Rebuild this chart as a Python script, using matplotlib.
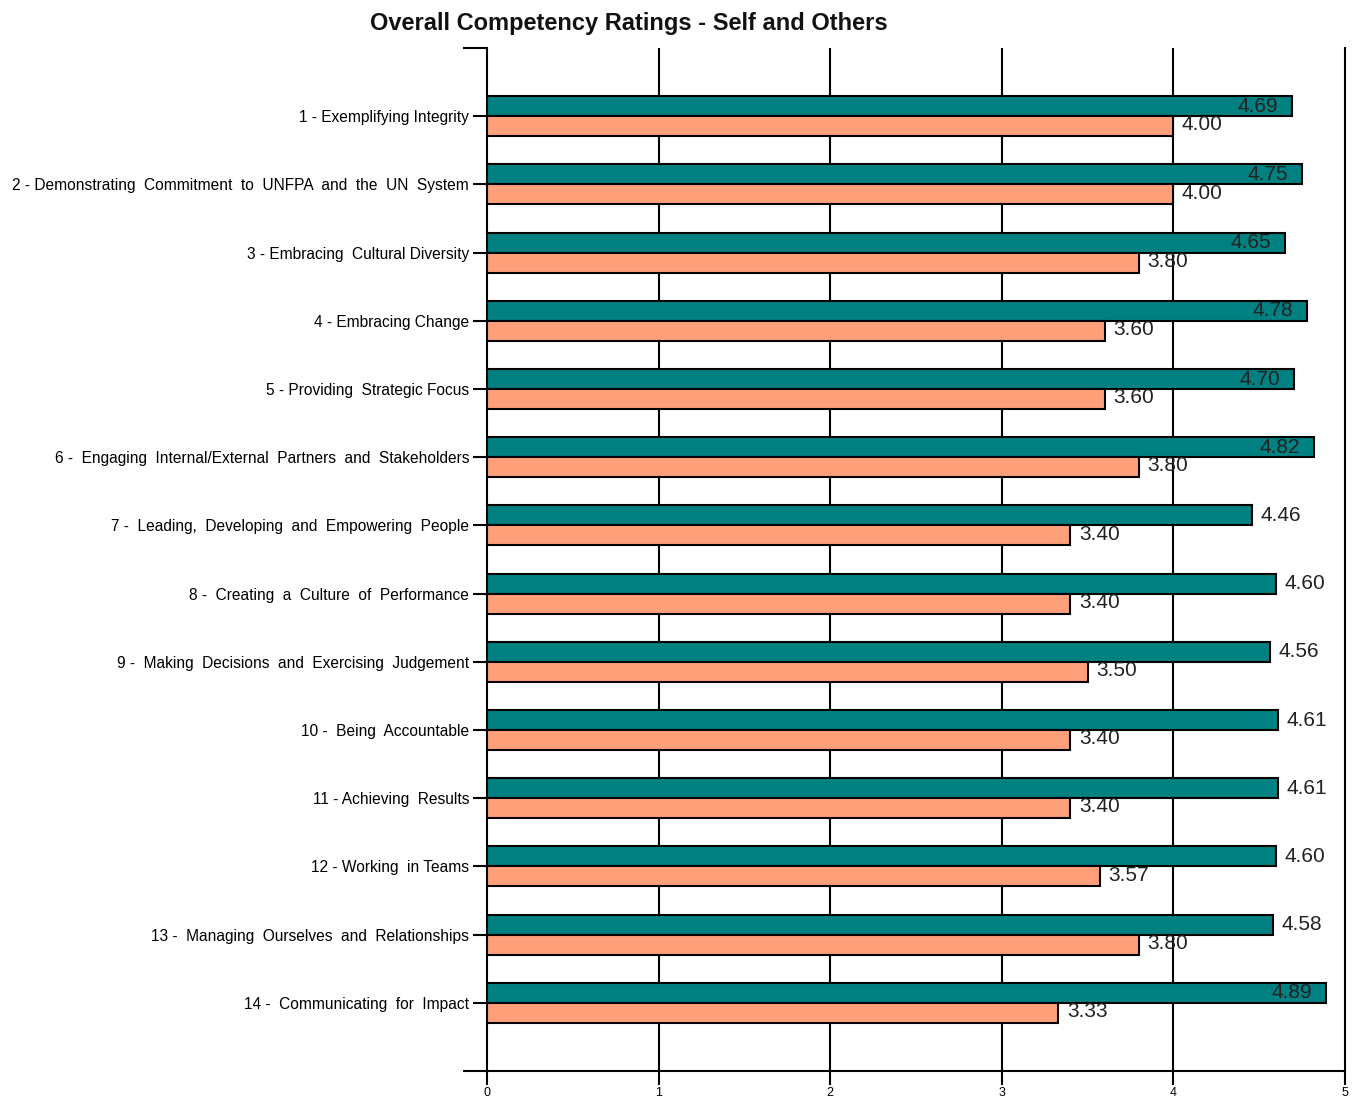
import matplotlib
matplotlib.use('Agg')
import matplotlib.pyplot as plt
import numpy as np

plt.rcParams['font.family'] = ['Liberation Sans', 'DejaVu Sans']

categories = ['1 - Exemplifying Integrity',
              '2 - Demonstrating  Commitment  to  UNFPA  and  the  UN  System',
              '3 - Embracing  Cultural Diversity',
              '4 - Embracing Change',
              '5 - Providing  Strategic Focus',
              '6 -  Engaging  Internal/External  Partners  and  Stakeholders',
              '7 -  Leading,  Developing  and  Empowering  People',
              '8 -  Creating  a  Culture  of  Performance',
              '9 -  Making  Decisions  and  Exercising  Judgement',
              '10 -  Being  Accountable',
              '11 - Achieving  Results',
              '12 - Working  in Teams',
              '13 -  Managing  Ourselves  and  Relationships',
              '14 -  Communicating  for  Impact']
others = [4.69, 4.75, 4.65, 4.78, 4.70, 4.82, 4.46, 4.60, 4.56, 4.61, 4.61, 4.60, 4.58, 4.89]
self_r = [4.00, 4.00, 3.80, 3.60, 3.60, 3.80, 3.40, 3.40, 3.50, 3.40, 3.40, 3.57, 3.80, 3.33]

teal = '#008080'
salmon = '#FFA07A'
txt = '#222222'

fig = plt.figure(figsize=(13.59, 11.02), dpi=100)
ax = fig.add_axes([0.3584, 0.0281, 0.6313, 0.9283])

y = np.arange(len(categories))
h = 0.294
ax.barh(y - h / 2, others, height=h, color=teal, edgecolor='black', linewidth=1.5, zorder=3)
ax.barh(y + h / 2, self_r, height=h, color=salmon, edgecolor='black', linewidth=1.5, zorder=3)

for i in range(len(categories)):
    v = others[i]
    if v > 4.62:
        ax.text(v - 0.08, y[i] - h / 2, f'{v:.2f}', ha='right', va='center',
                fontsize=15, color=txt, zorder=4)
    else:
        ax.text(v + 0.05, y[i] - h / 2, f'{v:.2f}', ha='left', va='center',
                fontsize=15, color=txt, zorder=4)
    s = self_r[i]
    ax.text(s + 0.05, y[i] + h / 2 - 0.02, f'{s:.2f}', ha='left', va='center',
            fontsize=15, color=txt, zorder=4)

ax.set_xlim(0, 5)
ax.set_ylim(len(categories), -1)
ax.set_xticks([0, 1, 2, 3, 4, 5])
ax.set_xticklabels(['0', '1', '2', '3', '4', '5'], fontsize=9)
ax.set_yticks(y)
ax.set_yticklabels(categories, fontsize=11.2)
ax.set_yticks([-1, len(categories)], minor=True)
ax.tick_params(axis='y', which='major', length=10, width=1.5, pad=3)
ax.tick_params(axis='y', which='minor', length=17, width=1.5)
ax.tick_params(axis='x', length=10, width=1.5, pad=1.5)

for xv in [1, 2, 3, 4]:
    ax.axvline(xv, color='black', linewidth=1.5, zorder=1)

ax.spines['top'].set_visible(False)
for sp in ['left', 'bottom', 'right']:
    ax.spines[sp].set_linewidth(1.5)

fig.text(0.463, 0.979, 'Overall Competency Ratings - Self and Others', ha='center', va='center',
         fontsize=17, fontweight='bold', color='#111111')

fig.savefig('out.png', dpi=100)
